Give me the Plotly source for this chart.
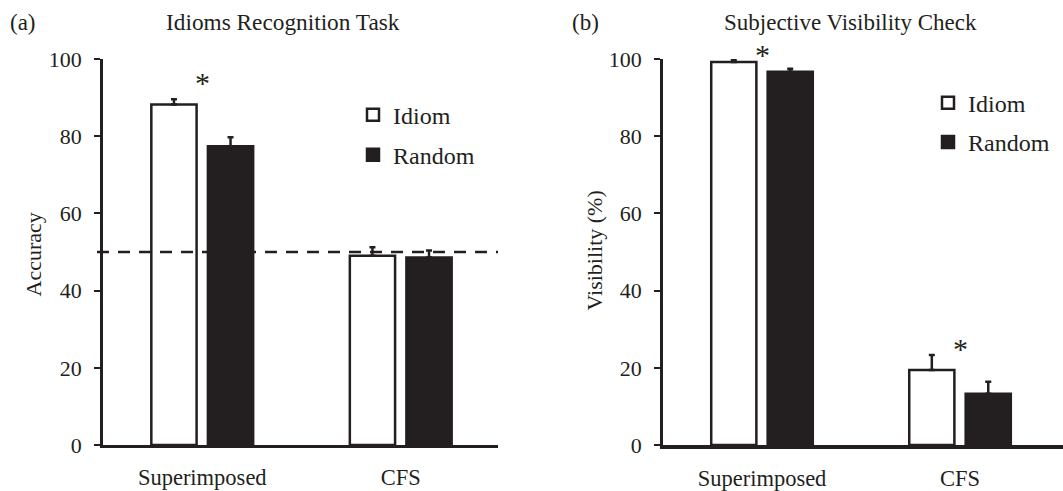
import plotly.graph_objects as go

# ---- data ----
conditions = ["Superimposed", "CFS"]

acc_idiom = [88.2, 49.0]
acc_idiom_err = [1.4, 2.2]
acc_random = [77.4, 48.6]
acc_random_err = [2.3, 1.8]
chance_level = 50

vis_idiom = [99.2, 19.4]
vis_idiom_err = [0.5, 3.9]
vis_random = [96.7, 13.3]
vis_random_err = [0.8, 3.1]

y_ticks = [0, 20, 40, 60, 80, 100]

# significance asterisks: (condition, y value)
sig_a = [("Superimposed", 94.0)]
sig_b = [("Superimposed", 101.2), ("CFS", 25.0)]

FONT = "Liberation Serif"
INK = "#231f20"
W, H = 1063, 491
FS = 22

fig = go.Figure()

def add_pair(xa, ya, idiom, idiom_err, random, random_err, legend):
    fig.add_trace(go.Bar(
        x=conditions, y=idiom, name="Idiom", xaxis=xa, yaxis=ya,
        marker=dict(color="white", line=dict(color=INK, width=2.5)),
        error_y=dict(type="data", symmetric=False, array=idiom_err,
                     arrayminus=[0] * len(idiom_err), color=INK, thickness=2.5, width=3),
        legend=legend, legendgroup=legend + "i",
    ))
    fig.add_trace(go.Bar(
        x=conditions, y=random, name="Random", xaxis=xa, yaxis=ya,
        marker=dict(color=INK, line=dict(color=INK, width=2.5)),
        error_y=dict(type="data", symmetric=False, array=random_err,
                     arrayminus=[0] * len(random_err), color=INK, thickness=2.5, width=3),
        legend=legend, legendgroup=legend + "r",
    ))

add_pair("x", "y", acc_idiom, acc_idiom_err, acc_random, acc_random_err, "legend")
add_pair("x2", "y2", vis_idiom, vis_idiom_err, vis_random, vis_random_err, "legend2")

axis_common = dict(showgrid=False, zeroline=False, showline=True, linecolor=INK)
xfont = dict(family=FONT, size=22.5, color=INK)
yfont = dict(family=FONT, size=22, color=INK)

fig.update_layout(
    width=W, height=H,
    margin=dict(l=0, r=0, t=59, b=41),
    paper_bgcolor="white", plot_bgcolor="white",
    barmode="group", bargap=0.43, bargroupgap=0.2,
    font=dict(family=FONT, color=INK),
    xaxis=dict(domain=[103 / W, 498 / W], range=[-0.5, 1.49], anchor="y",
               ticks="", linewidth=2.5, ticklabelstandoff=10, tickfont=xfont, **axis_common),
    yaxis=dict(domain=[0, 1], range=[0, 100], anchor="x", tickvals=y_ticks,
               ticks="outside", ticklen=6, tickwidth=2, tickcolor=INK,
               linewidth=2.5, ticklabelstandoff=8, tickfont=yfont, **axis_common),
    xaxis2=dict(domain=[663 / W, 1.0], range=[-0.5, 1.52], anchor="y2",
                ticks="", linewidth=3.5, ticklabelstandoff=10, tickfont=xfont, **axis_common),
    yaxis2=dict(domain=[0, 1], range=[0, 100], anchor="x2", tickvals=y_ticks,
                ticks="outside", ticklen=6, tickwidth=2, tickcolor=INK,
                linewidth=2.5, ticklabelstandoff=8, tickfont=yfont, **axis_common),
    legend=dict(x=353 / W, y=(450 - 93) / 391, xanchor="left", yanchor="top",
                font=dict(family=FONT, size=24, color=INK), bgcolor="rgba(0,0,0,0)",
                traceorder="grouped", tracegroupgap=6),
    legend2=dict(x=928 / W, y=(450 - 81) / 391, xanchor="left", yanchor="top",
                 font=dict(family=FONT, size=24, color=INK), bgcolor="rgba(0,0,0,0)",
                 traceorder="grouped", tracegroupgap=5),
    showlegend=True,
)

# chance level line
fig.add_shape(type="line", xref="x domain", yref="y", x0=-6 / 395, x1=1,
              y0=chance_level, y1=chance_level,
              line=dict(color=INK, width=2.5, dash="12px,9px"))

ann = []
for cond, yv in sig_a:
    ann.append(dict(x=cond, y=yv / 100, xref="x", yref="y domain", text="*", showarrow=False,
                    xanchor="center", yanchor="middle",
                    font=dict(family=FONT, size=30, color=INK)))
for cond, yv in sig_b:
    ann.append(dict(x=cond, y=yv / 100, xref="x2", yref="y2 domain", text="*", showarrow=False,
                    xanchor="center", yanchor="middle",
                    font=dict(family=FONT, size=30, color=INK)))

def paper_y(px):
    return (450 - px) / 391

def label(x, y, text, size, angle=0):
    return dict(x=x / W, y=paper_y(y), xref="paper", yref="paper", text=text,
                showarrow=False, xanchor="center", yanchor="middle", textangle=angle,
                font=dict(family=FONT, size=size, color=INK))

ann += [
    label(23, 22, "(a)", 23),
    label(283, 22, "Idioms Recognition Task", 23.3),
    label(585, 22, "(b)", 23),
    label(850, 22, "Subjective Visibility Check", 23),
    label(33, 257, "Accuracy", FS, -90),
    label(595, 253, "Visibility (%)", FS, -90),
]
fig.update_layout(annotations=ann)

fig.write_html("out.html")
